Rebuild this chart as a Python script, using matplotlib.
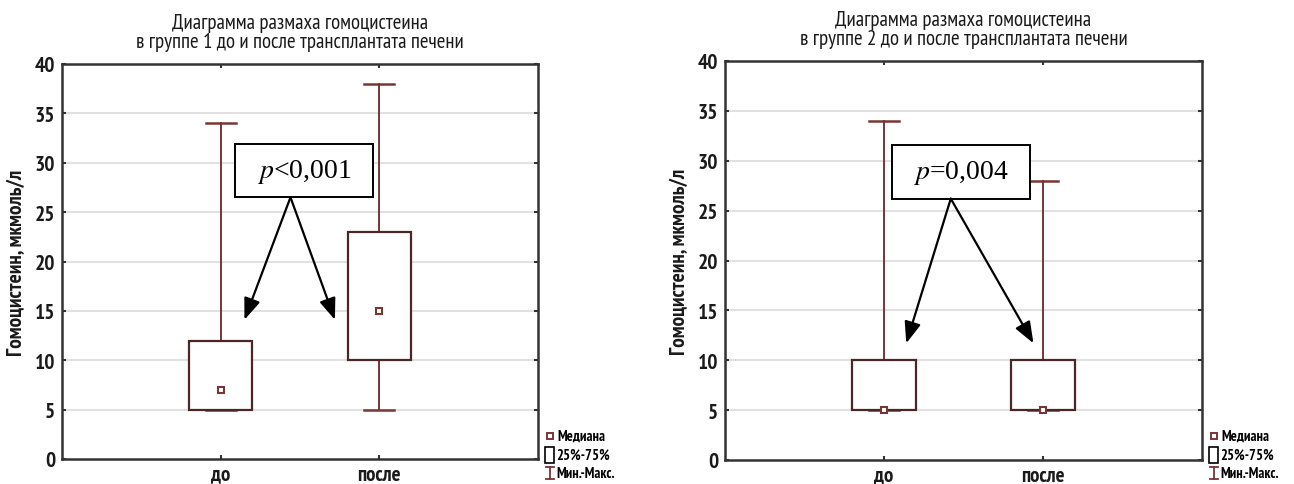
import matplotlib
matplotlib.use("Agg")
import matplotlib.pyplot as plt
from matplotlib.patches import Rectangle
from matplotlib.lines import Line2D
from matplotlib import font_manager

categories = ["до", "после"]
titles = ["Диаграмма размаха гомоцистеина\nв группе 1 до и после трансплантата печени",
          "Диаграмма размаха гомоцистеина\nв группе 2 до и после трансплантата печени"]
ylabel = "Гомоцистеин, мкмоль/л"
# group 1
g1_min = [5, 5]
g1_q1 = [5, 10]
g1_med = [7, 15]
g1_q3 = [12, 23]
g1_max = [34, 38]
# group 2
g2_min = [5, 5]
g2_q1 = [5, 5]
g2_med = [5, 5]
g2_q3 = [10, 10]
g2_max = [34, 28]
p_texts = ["<0,001", "=0,004"]
yticks = [0, 5, 10, 15, 20, 25, 30, 35, 40]
legend_labels = ["Медиана", "25%-75%", "Мин.-Макс."]

WHISK = "#7a3535"
BOXC = "#4a2626"
SPINE = "#333333"

names = {f.name for f in font_manager.fontManager.ttflist}
pref = ["Liberation Sans Narrow", "Arial Narrow", "PT Sans Narrow", "Roboto Condensed",
        "Open Sans Condensed", "Asap Condensed"]
chosen = next((n for n in pref if n in names), "DejaVu Sans")
FAM = [chosen, "DejaVu Sans"]

fig = plt.figure(figsize=(12.94, 4.85), dpi=100)
ax1 = fig.add_axes([62/1294, 1-460/485, (538-62)/1294, (460-65)/485])
ax2 = fig.add_axes([725/1294, 1-461/485, (1202-725)/1294, (461-62)/485])

groups = [(g1_min, g1_q1, g1_med, g1_q3, g1_max), (g2_min, g2_q1, g2_med, g2_q3, g2_max)]
ann = [
    dict(box=(1.09, 1.96, 26.5, 31.9), start=(1.44, 26.5), tips=[(1.15, 14.1), (1.72, 14.1)]),
    dict(box=(1.05, 1.92, 26.2, 31.6), start=(1.42, 26.2), tips=[(1.14, 11.7), (1.94, 11.7)]),
]

for i, ax in enumerate([ax1, ax2]):
    mn, q1, md, q3, mx = groups[i]
    pos = [1, 2]
    ax.set_xlim(0, 3)
    ax.set_ylim(0, 40)
    ax.set_yticks(yticks)
    ax.set_xticks(pos)
    ax.set_xticklabels(categories)
    for y in yticks[1:-1]:
        ax.axhline(y, color="#dcdcdc", lw=1.2, zorder=0)
    bw = 0.4
    cw = 0.19
    for j, x in enumerate(pos):
        ax.plot([x, x], [q3[j], mx[j]], color=WHISK, lw=1.4, zorder=2)
        ax.plot([x, x], [mn[j], q1[j]], color=WHISK, lw=1.4, zorder=2)
        ax.plot([x - cw/2, x + cw/2], [mx[j], mx[j]], color=WHISK, lw=1.8, zorder=2)
        ax.plot([x - cw/2, x + cw/2], [mn[j], mn[j]], color=WHISK, lw=1.8, zorder=2)
        ax.add_patch(Rectangle((x - bw/2, q1[j]), bw, q3[j] - q1[j], facecolor="white",
                               edgecolor=BOXC, lw=1.6, zorder=3))
        ax.plot([x], [md[j]], marker="s", ms=4.2, mfc="white", mec=WHISK, mew=1.5, zorder=4)
    for s in ax.spines.values():
        s.set_color(SPINE)
        s.set_linewidth(1.8)
    ax.tick_params(axis="y", direction="in", length=3, width=1.5, color=SPINE,
                   labelsize=15.5, pad=5, right=True)
    ax.tick_params(axis="x", direction="in", length=3, width=1.5, color=SPINE,
                   labelsize=15, pad=4, top=True)
    for lab in ax.get_yticklabels() + ax.get_xticklabels():
        lab.set_family(FAM)
        lab.set_fontweight("bold")
        lab.set_color("#1a1a1a")
    ax.set_ylabel(ylabel, fontsize=15.5, fontweight="bold", labelpad=6, family=FAM, color="#1a1a1a")
    ax.set_title(titles[i], fontsize=15, pad=12, linespacing=1.0, family=FAM, color="#1a1a1a")

    a = ann[i]
    bx0, bx1, by0, by1 = a["box"]
    ax.add_patch(Rectangle((bx0, by0), bx1 - bx0, by1 - by0, facecolor="white",
                           edgecolor="black", lw=1.4, zorder=5))
    ax.text((bx0 + bx1)/2, (by0 + by1)/2, "$p$" + p_texts[i], ha="center", va="center",
            fontsize=20, family=["Liberation Serif", "DejaVu Serif"], zorder=6,
            math_fontfamily="stix")
    for tip in a["tips"]:
        ax.annotate("", xy=tip, xytext=a["start"], zorder=6,
                    arrowprops=dict(arrowstyle="-|>,head_length=1.3,head_width=0.5",
                                    color="black", lw=1.6, shrinkA=0, shrinkB=0))

    lx = ax.get_position().x1 + 0.004
    fs = 10.5
    fig.text(lx + 0.011, 0.099, legend_labels[0], fontsize=fs, fontweight="bold", va="center", family=FAM)
    fig.text(lx + 0.010, 0.060, legend_labels[1], fontsize=fs, fontweight="bold", va="center", family=FAM)
    fig.text(lx + 0.010, 0.023, legend_labels[2], fontsize=fs, fontweight="bold", va="center", family=FAM)
    fig.add_artist(Line2D([lx + 0.005], [0.099], marker="s", ms=4, mfc="white", mec=WHISK, mew=1.4,
                          transform=fig.transFigure))
    fig.add_artist(Rectangle((lx + 0.0015, 0.044), 0.007, 0.032, facecolor="white", edgecolor="black",
                             lw=1.2, transform=fig.transFigure))
    fig.add_artist(Line2D([lx + 0.005, lx + 0.005], [0.01, 0.036], color=WHISK, lw=1.3,
                          transform=fig.transFigure))
    fig.add_artist(Line2D([lx + 0.002, lx + 0.008], [0.036, 0.036], color=WHISK, lw=1.3,
                          transform=fig.transFigure))
    fig.add_artist(Line2D([lx + 0.002, lx + 0.008], [0.01, 0.01], color=WHISK, lw=1.3,
                          transform=fig.transFigure))

fig.savefig("out.png", dpi=100, facecolor="white")
